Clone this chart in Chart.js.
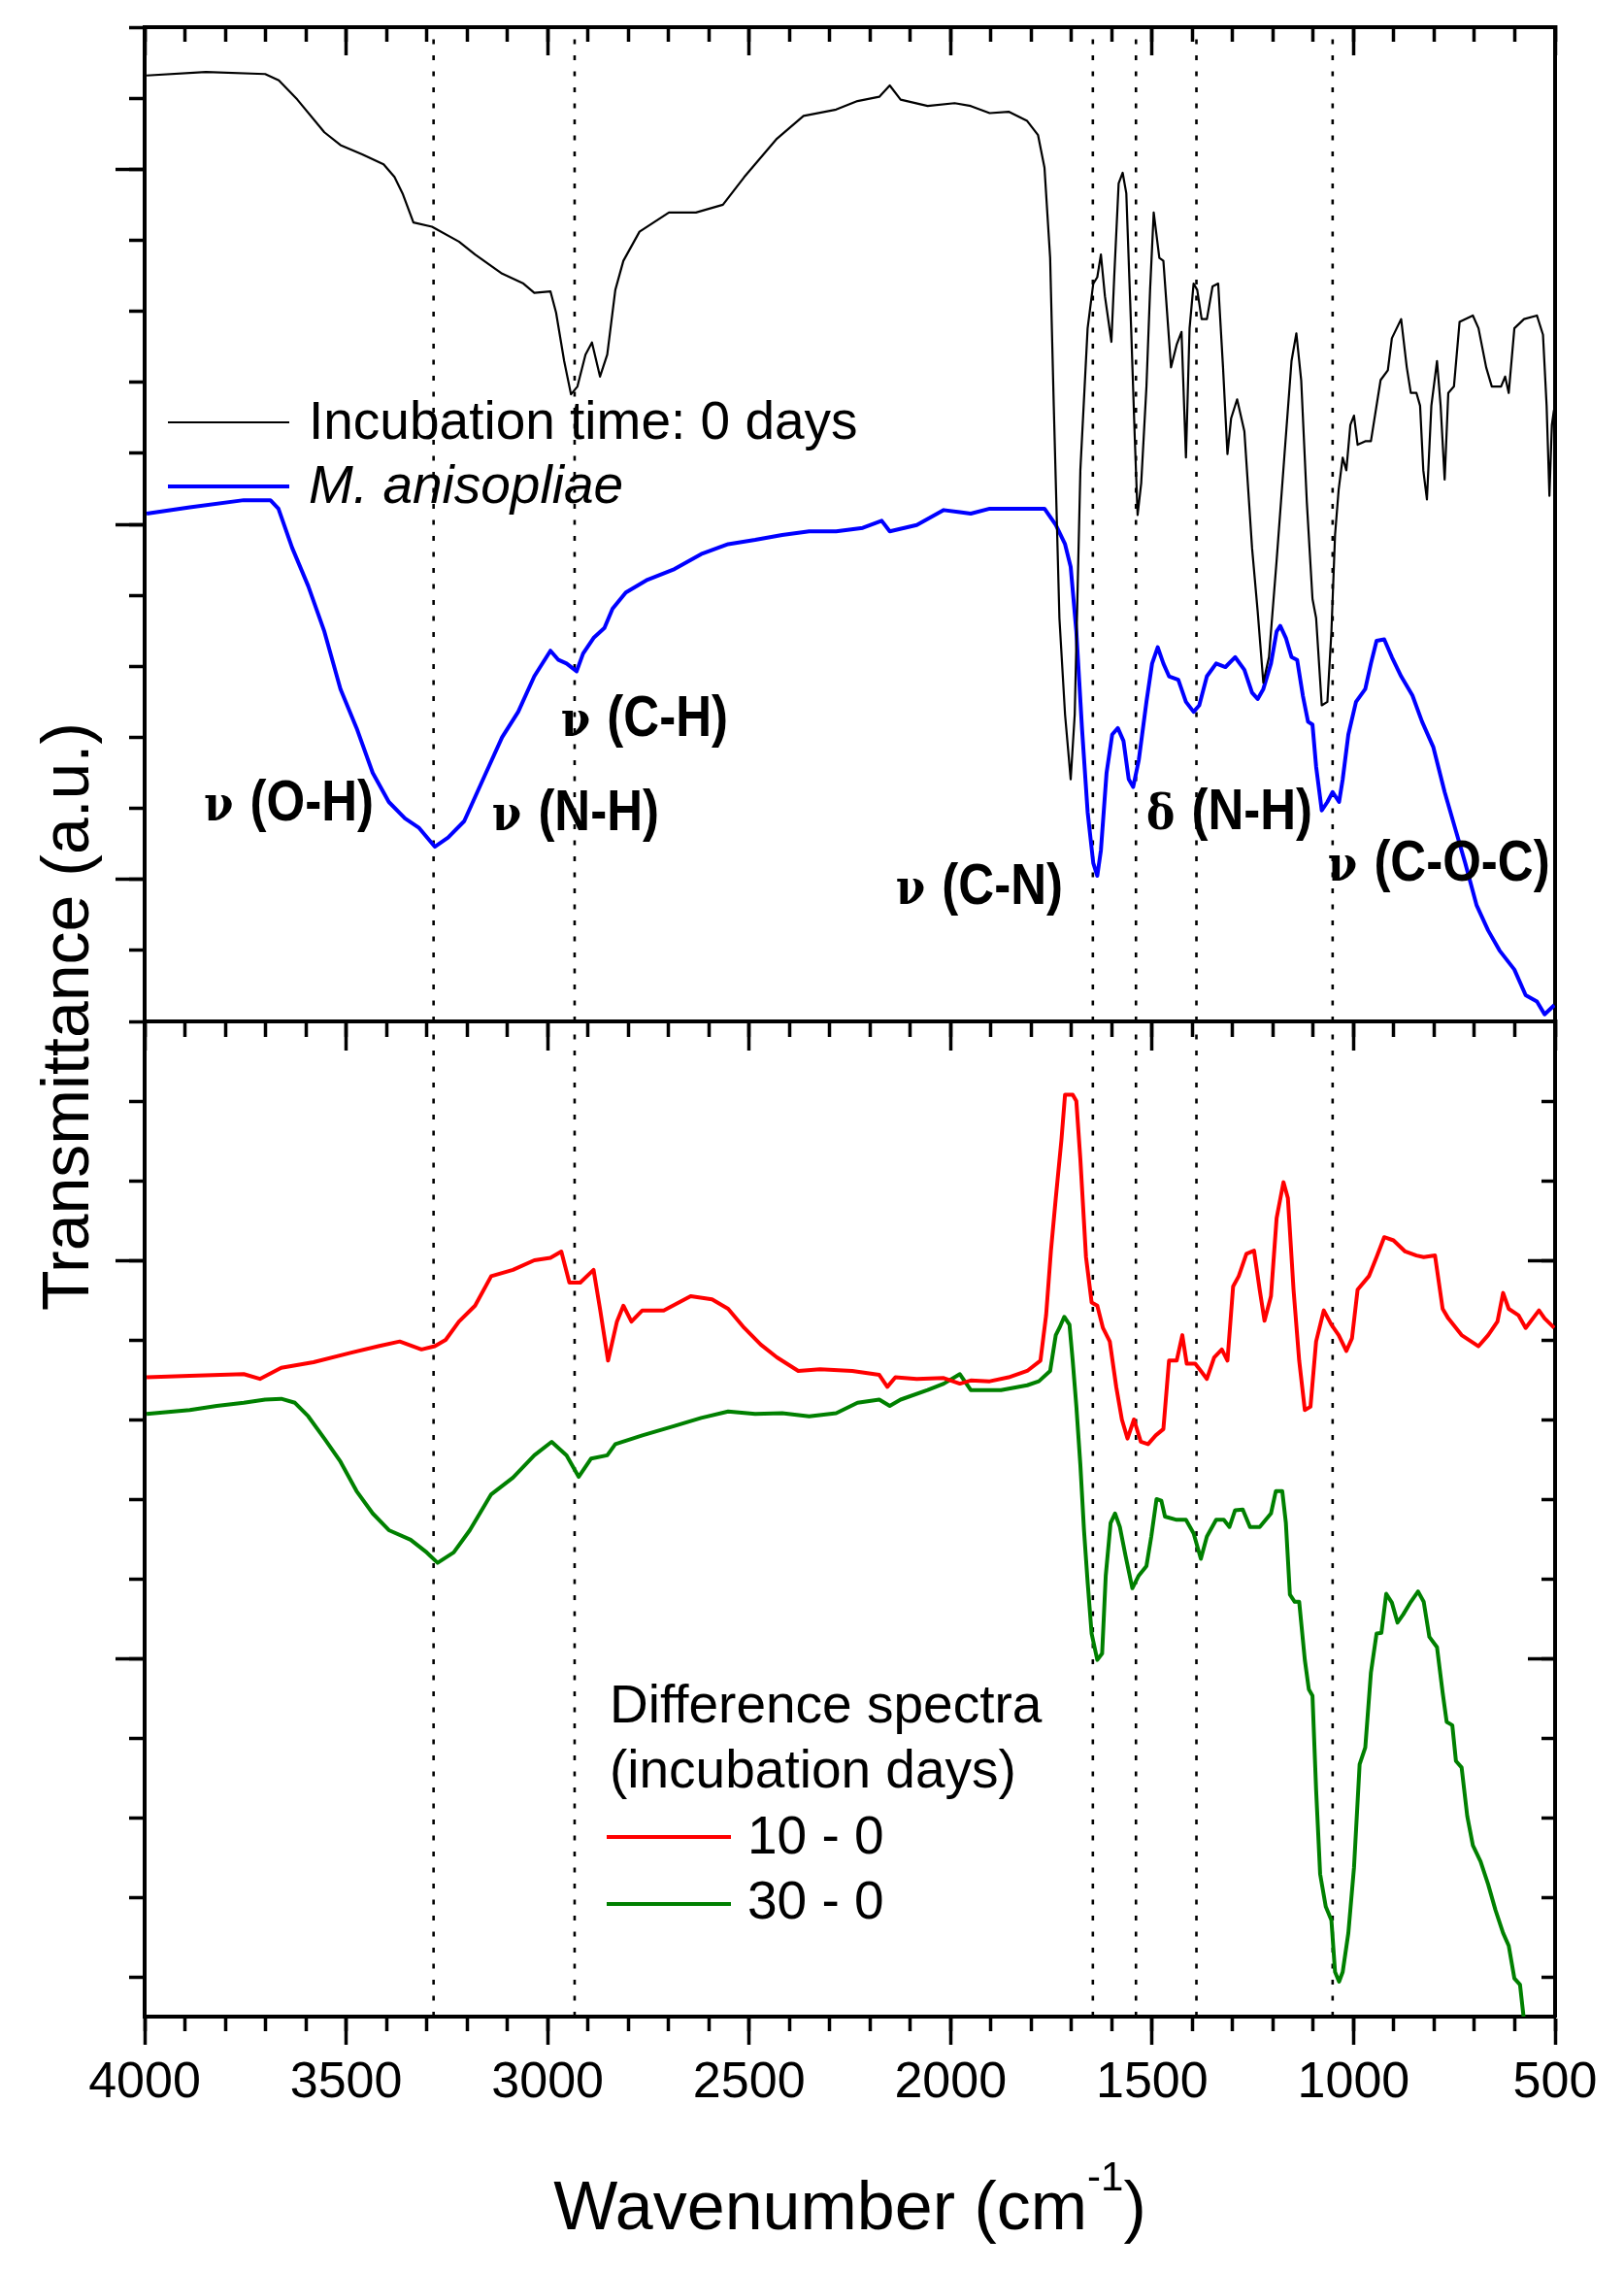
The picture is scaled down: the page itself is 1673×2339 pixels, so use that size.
<!DOCTYPE html>
<html>
<head>
<meta charset="utf-8">
<title>FTIR spectra</title>
<script src="https://cdn.jsdelivr.net/npm/chart.js@4.4.1/dist/chart.umd.min.js"></script>
<style>
  html, body { margin: 0; padding: 0; background: #fff; }
  #wrap { position: relative; width: 1673px; height: 2339px; }
  canvas { position: absolute; left: 0; top: 0; }
</style>
</head>
<body>
<div id="wrap">
  <canvas id="topChart" width="1673" height="2339"></canvas>
  <canvas id="bottomChart" width="1673" height="2339"></canvas>
</div>
<script>
// ===== Data =====
// Incubation time 0 days (black)
const wn0 = [3995, 3848, 3701, 3667, 3621, 3554, 3514, 3460, 3407, 3380, 3360, 3333, 3287, 3220, 3180, 3113,
  3060, 3033, 2993, 2979, 2959, 2942, 2926, 2906, 2890, 2870, 2852, 2832, 2812, 2772, 2699, 2632, 2565, 2512,
  2431, 2365, 2284, 2231, 2177, 2151, 2124, 2057, 1990, 1950, 1903, 1856, 1810, 1783, 1767, 1753, 1744, 1730,
  1716, 1702, 1692, 1678, 1660, 1646, 1636, 1627, 1617, 1601, 1594, 1583, 1573, 1564, 1552, 1543, 1536, 1527,
  1514, 1505, 1496, 1482, 1472, 1453, 1439, 1427, 1416, 1407, 1397, 1388, 1377, 1364, 1350, 1336, 1324, 1313,
  1304, 1289, 1271, 1252, 1238, 1224, 1210, 1191, 1172, 1154, 1142, 1130, 1116, 1102, 1093, 1079, 1065, 1055,
  1046, 1037, 1027, 1018, 1008, 999, 990, 971, 957, 933, 915, 905, 882, 868, 858, 844, 835, 827, 818, 807,
  793, 784, 774, 765, 751, 737, 704, 690, 671, 657, 634, 624, 615, 601, 577, 545, 530, 521, 514, 508, 503, 500];
const t0 = [13.32, 13.37, 13.34, 13.25, 12.98, 12.52, 12.34, 12.21, 12.07, 11.89, 11.66, 11.25, 11.19, 10.98, 10.80, 10.53,
  10.39, 10.26, 10.28, 9.98, 9.30, 8.83, 8.94, 9.39, 9.56, 9.08, 9.39, 10.30, 10.71, 11.12, 11.39, 11.39, 11.50, 11.89,
  12.43, 12.75, 12.84, 12.96, 13.02, 13.18, 12.98, 12.89, 12.93, 12.89, 12.79, 12.81, 12.68, 12.48, 12.02, 10.75, 8.67, 5.68,
  4.32, 3.41, 4.32, 7.76, 9.76, 10.39, 10.48, 10.80, 10.21, 9.57, 10.48, 11.80, 11.95, 11.66, 9.76, 8.22, 7.13, 7.58,
  8.94, 10.30, 11.39, 10.75, 10.71, 9.21, 9.53, 9.71, 7.94, 9.76, 10.39, 10.30, 9.89, 9.89, 10.35, 10.39, 9.21, 7.99,
  8.49, 8.76, 8.31, 6.67, 5.77, 4.77, 5.13, 6.49, 7.94, 9.30, 9.69, 9.03, 7.31, 5.95, 5.68, 4.45, 4.50, 5.49,
  6.85, 7.49, 7.94, 7.76, 8.40, 8.53, 8.12, 8.17, 8.17, 9.03, 9.17, 9.62, 9.89, 9.21, 8.85, 8.85, 8.67, 7.76, 7.35, 8.67,
  9.30, 8.67, 7.63, 8.85, 8.94, 9.85, 9.94, 9.76, 9.21, 8.94, 8.94, 9.08, 8.85, 9.76, 9.89, 9.94, 9.67, 8.67, 7.40, 8.40, 8.60, 7.40];

// M. anisopliae (blue)
const wnM = [3995, 3888, 3754, 3688, 3668, 3634, 3594, 3554, 3514, 3474, 3434, 3394, 3354, 3320, 3280, 3247, 3207,
  3153, 3113, 3073, 3033, 2993, 2973, 2953, 2928, 2912, 2886, 2859, 2839, 2806, 2752, 2685, 2619, 2552, 2485, 2418,
  2351, 2284, 2218, 2171, 2151, 2084, 2017, 1977, 1950, 1903, 1856, 1810, 1767, 1739, 1716, 1702, 1688, 1674, 1660,
  1646, 1636, 1627, 1613, 1599, 1585, 1571, 1558, 1547, 1533, 1514, 1500, 1486, 1472, 1458, 1435, 1416, 1397, 1383,
  1364, 1341, 1318, 1294, 1271, 1252, 1238, 1224, 1205, 1191, 1182, 1168, 1154, 1140, 1126, 1113, 1102, 1093, 1079,
  1065, 1052, 1036, 1027, 1013, 994, 971, 957, 943, 924, 905, 882, 854, 830, 802, 774, 746, 723, 695, 666, 638, 601,
  573, 545, 526, 502];
const tM = [7.15, 7.24, 7.34, 7.34, 7.22, 6.67, 6.13, 5.49, 4.68, 4.13, 3.50, 3.09, 2.86, 2.73, 2.46, 2.59, 2.82,
  3.50, 4.00, 4.36, 4.86, 5.22, 5.09, 5.04, 4.93, 5.18, 5.40, 5.54, 5.81, 6.04, 6.22, 6.37, 6.58, 6.72, 6.78, 6.85,
  6.90, 6.90, 6.95, 7.05, 6.90, 6.99, 7.20, 7.17, 7.15, 7.22, 7.22, 7.22, 7.22, 6.99, 6.72, 6.40, 5.49, 4.13, 2.95,
  2.23, 2.05, 2.41, 3.50, 4.04, 4.13, 3.95, 3.41, 3.30, 3.68, 4.50, 5.04, 5.27, 5.04, 4.86, 4.81, 4.50, 4.36, 4.45,
  4.86, 5.04, 4.99, 5.13, 4.95, 4.63, 4.54, 4.68, 5.04, 5.49, 5.57, 5.40, 5.13, 5.09, 4.59, 4.22, 4.18, 3.59, 2.97,
  3.09, 3.23, 3.09, 3.41, 4.04, 4.50, 4.68, 5.04, 5.36, 5.38, 5.13, 4.86, 4.59, 4.22, 3.86, 3.23, 2.68, 2.23, 1.64, 1.28, 1.00, 0.73,
  0.37, 0.28, 0.10, 0.23];

// Difference spectrum 10 - 0 days (red)
const wn10 = [3995, 3888, 3754, 3714, 3661, 3581, 3487, 3420, 3367, 3313, 3280, 3253, 3220, 3180, 3140, 3086, 3033,
  2993, 2966, 2946, 2919, 2886, 2870, 2850, 2828, 2812, 2792, 2765, 2712, 2645, 2592, 2552, 2512, 2471, 2431, 2378,
  2324, 2244, 2177, 2157, 2137, 2084, 2017, 1977, 1950, 1903, 1856, 1810, 1777, 1763, 1751, 1739, 1725, 1716, 1697,
  1688, 1678, 1664, 1650, 1636, 1622, 1605, 1589, 1575, 1561, 1545, 1528, 1510, 1491, 1472, 1458, 1439, 1425, 1414,
  1393, 1379, 1364, 1346, 1327, 1313, 1299, 1285, 1266, 1247, 1233, 1221, 1205, 1191, 1174, 1163, 1149, 1135, 1121,
  1107, 1093, 1074, 1055, 1037, 1018, 1004, 990, 962, 943, 924, 901, 872, 844, 826, 798, 779, 765, 732, 690, 666,
  643, 629, 615, 591, 573, 540, 526, 502];
const d10 = [7.53, 7.55, 7.57, 7.51, 7.65, 7.72, 7.84, 7.92, 7.98, 7.88, 7.92, 8.00, 8.23, 8.43, 8.80, 8.88, 9.00,
  9.03, 9.11, 8.72, 8.72, 8.88, 8.39, 7.74, 8.23, 8.43, 8.23, 8.37, 8.37, 8.55, 8.51, 8.39, 8.15, 7.94, 7.78, 7.61,
  7.63, 7.61, 7.56, 7.41, 7.53, 7.51, 7.52, 7.45, 7.49, 7.48, 7.53, 7.61, 7.74, 8.31, 9.12, 9.78, 10.51, 11.08, 11.08,
  11.00, 10.27, 9.04, 8.47, 8.43, 8.15, 7.98, 7.41, 7.00, 6.76, 7.00, 6.72, 6.69, 6.80, 6.88, 7.74, 7.74, 8.06, 7.70,
  7.70, 7.61, 7.51, 7.78, 7.88, 7.74, 8.67, 8.80, 9.08, 9.12, 8.63, 8.24, 8.55, 9.53, 9.98, 9.78, 8.63, 7.74, 7.12,
  7.16, 7.98, 8.37, 8.19, 8.06, 7.86, 8.02, 8.63, 8.80, 9.04, 9.29, 9.25, 9.11, 9.06, 9.04, 9.06, 8.39, 8.27, 8.06, 7.92, 8.06,
  8.23, 8.59, 8.39, 8.31, 8.15, 8.37, 8.27, 8.15];

// Difference spectrum 30 - 0 days (green)
const wn30 = [3995, 3888, 3821, 3754, 3701, 3661, 3627, 3594, 3554, 3514, 3474, 3434, 3394, 3340, 3300, 3273, 3233,
  3193, 3140, 3086, 3033, 2990, 2953, 2923, 2892, 2852, 2832, 2765, 2685, 2619, 2552, 2485, 2418, 2351, 2284, 2231,
  2177, 2151, 2124, 2057, 2017, 1977, 1950, 1875, 1810, 1781, 1753, 1739, 1730, 1718, 1705, 1697, 1688, 1678, 1669,
  1660, 1650, 1636, 1624, 1615, 1603, 1592, 1580, 1566, 1549, 1533, 1514, 1502, 1489, 1477, 1468, 1439, 1416, 1397,
  1379, 1364, 1341, 1322, 1308, 1294, 1275, 1257, 1233, 1205, 1193, 1177, 1168, 1158, 1146, 1135, 1121, 1111, 1102,
  1093, 1083, 1069, 1055, 1046, 1036, 1027, 1013, 999, 985, 971, 957, 943, 931, 919, 905, 891, 877, 858, 840, 826,
  812, 793, 779, 769, 755, 746, 732, 718, 704, 685, 666, 648, 629, 615, 601, 587, 578, 572];
const d30 = [7.07, 7.12, 7.17, 7.21, 7.25, 7.26, 7.21, 7.04, 6.76, 6.47, 6.10, 5.82, 5.61, 5.49, 5.33, 5.20, 5.33,
  5.61, 6.06, 6.27, 6.55, 6.72, 6.55, 6.28, 6.51, 6.55, 6.69, 6.80, 6.92, 7.02, 7.10, 7.07, 7.08, 7.04, 7.08, 7.21,
  7.25, 7.17, 7.25, 7.37, 7.45, 7.57, 7.37, 7.37, 7.43, 7.48, 7.61, 8.06, 8.15, 8.29, 8.19, 7.74, 7.17, 6.43, 5.61,
  4.96, 4.31, 3.98, 4.06, 5.04, 5.70, 5.82, 5.65, 5.29, 4.88, 5.04, 5.16, 5.53, 6.00, 5.98, 5.78, 5.74, 5.74, 5.57,
  5.25, 5.53, 5.74, 5.74, 5.65, 5.86, 5.87, 5.65, 5.65, 5.82, 6.10, 6.10, 5.70, 4.80, 4.71, 4.71, 3.98, 3.61, 3.53,
  2.35, 1.29, 0.88, 0.71, 0.06, -0.06, 0.06, 0.55, 1.37, 2.67, 2.88, 3.82, 4.31, 4.32, 4.81, 4.70, 4.45, 4.55, 4.71, 4.84, 4.71,
  4.27, 4.14, 3.57, 3.20, 3.16, 2.71, 2.63, 2.02, 1.65, 1.45, 1.16, 0.84, 0.55, 0.39, -0.02, -0.10, -0.51, -0.9];

// Band assignments (dotted verticals), cm-1
const bandPositions = [3283, 2933, 1647, 1540, 1390, 1052];

// Tick values
const xMajorTicks = [4000, 3500, 3000, 2500, 2000, 1500, 1000, 500];
const xMinorTicks = [4000, 3900, 3800, 3700, 3600, 3500, 3400, 3300, 3200, 3100, 3000, 2900, 2800, 2700, 2600,
  2500, 2400, 2300, 2200, 2100, 2000, 1900, 1800, 1700, 1600, 1500, 1400, 1300, 1200, 1100, 1000, 900, 800,
  700, 600, 500];
const topMinorTicks = [0, 1, 2, 3, 4, 5, 6, 7, 8, 9, 10, 11, 12, 13, 14];
const topMajorTicks = [2, 7, 12];
const lowMinorTicks = [0, 1, 2, 3, 4, 5, 6, 7, 8, 9, 10, 11];
const lowMajorTicks = [4, 9];

// ===== Layout =====
const PAGE_W = 1673, PAGE_H = 2339;
const LEFT = 149, RIGHT = 1602, TOP = 28, MID = 1052, BOTTOM = 2077;
const INK = '#000';
const SANS = '"Liberation Sans", Arial, sans-serif';
const GREEK = '"DejaVu Serif", "Liberation Serif", serif';

const toPoints = (xs, ys) => xs.map((x, i) => ({ x, y: ys[i] }));

// one axis = one set of tick marks; majors and minors are two axes on the same edge
function axis({ position, min, max, ticks, len, weight, size, labels = false, reverse = false, drawTicks = true }) {
  return {
    type: 'linear', position, min, max, weight, reverse,
    afterBuildTicks: s => { s.ticks = ticks.map(v => ({ value: v })); },
    afterFit: s => { if (s.isHorizontal()) s.height = size; else s.width = size; },
    grid: { drawOnChartArea: false, drawTicks, tickLength: len, tickWidth: 3.5, tickColor: INK },
    border: { display: true, color: INK, width: 4 },
    ticks: labels
      ? { display: true, autoSkip: false, maxRotation: 0, minRotation: 0, padding: 8, color: INK,
          font: { family: SANS, size: 52 }, callback: v => String(v) }
      : { display: false }
  };
}

function bandLines(ymin, ymax) {
  return bandPositions.map(w => ({
    data: [{ x: w, y: ymin }, { x: w, y: ymax }],
    borderColor: INK, borderWidth: 2.6, borderDash: [5, 11.5], borderCapStyle: 'butt'
  }));
}

// bold labels in the reference are slightly narrow/tall, so stretch them a little vertically
function bandLabel(ctx, x, y, greek, rest) {
  ctx.save();
  ctx.translate(x, y);
  ctx.scale(1, 1.15);
  ctx.font = `bold 44px ${GREEK}`;
  ctx.fillText(greek, 0, 0);
  const w = ctx.measureText(greek).width;
  ctx.font = `bold 51px ${SANS}`;
  ctx.fillText(rest, w + 17, 0);
  ctx.restore();
}

// band annotations: anchor = left end of text baseline, in (wavenumber, a.u.)
const bandNotes = [
  { g: '\u03bd', t: '(O-H)', wn: 3853, v: 2.83 },
  { g: '\u03bd', t: '(N-H)', wn: 3138, v: 2.70 },
  { g: '\u03bd', t: '(C-H)', wn: 2967, v: 4.02 },
  { g: '\u03bd', t: '(C-N)', wn: 2136, v: 1.65 },
  { g: '\u03b4', t: '(N-H)', wn: 1514, v: 2.71 },
  { g: '\u03bd', t: '(C-O-C)', wn: 1064, v: 1.98 }
];

const commonOptions = {
  responsive: false,
  animation: false,
  events: [],
  plugins: { legend: { display: false }, tooltip: { enabled: false } },
  elements: {
    point: { radius: 0 },
    line: { tension: 0, borderJoinStyle: 'round', fill: false }
  }
};

// ===== Upper panel =====
const topText = {
  id: 'topText',
  afterDatasetsDraw(chart) {
    const { ctx } = chart;
    const xs = chart.scales.x, ys = chart.scales.y;
    ctx.save();
    ctx.fillStyle = INK;
    ctx.textBaseline = 'alphabetic';
    ctx.textAlign = 'left';
    // legend
    ctx.strokeStyle = INK; ctx.lineWidth = 2.2;
    ctx.beginPath(); ctx.moveTo(173, 435); ctx.lineTo(298, 435); ctx.stroke();
    ctx.strokeStyle = '#0000ff'; ctx.lineWidth = 4;
    ctx.beginPath(); ctx.moveTo(173, 501); ctx.lineTo(298, 501); ctx.stroke();
    ctx.font = `55px ${SANS}`;
    ctx.fillText('Incubation time: 0 days', 318, 452);
    ctx.font = `italic 55px ${SANS}`;
    ctx.fillText('M. anisopliae', 318, 518);
    // band labels
    bandNotes.forEach(n => {
      bandLabel(ctx, xs.getPixelForValue(n.wn), ys.getPixelForValue(n.v), n.g, n.t);
    });
    ctx.restore();
  }
};

new Chart(document.getElementById('topChart'), {
  type: 'line',
  data: {
    datasets: [
      { label: 'Incubation time: 0 days', data: toPoints(wn0, t0), borderColor: INK, borderWidth: 2.2 },
      { label: 'M. anisopliae', data: toPoints(wnM, tM), borderColor: '#0000ff', borderWidth: 4 },
      ...bandLines(0, 14)
    ]
  },
  options: {
    ...commonOptions,
    layout: { padding: { left: 0, right: 0, top: 0, bottom: PAGE_H - MID } },
    scales: {
      x: axis({ position: 'top', min: 500, max: 4000, reverse: true, ticks: xMinorTicks, len: -15, weight: 0, size: 0 }),
      xMaj: axis({ position: 'top', min: 500, max: 4000, reverse: true, ticks: xMajorTicks, len: -29, weight: 1, size: TOP }),
      y: axis({ position: 'left', min: 0, max: 14, ticks: topMinorTicks, len: 16, weight: 0, size: 0 }),
      yMaj: axis({ position: 'left', min: 0, max: 14, ticks: topMajorTicks, len: 30, weight: 1, size: LEFT }),
      yR: axis({ position: 'right', min: 0, max: 14, ticks: topMajorTicks, len: 0, weight: 0, size: PAGE_W - RIGHT, drawTicks: false })
    }
  },
  plugins: [topText]
});

// ===== Lower panel =====
const bottomText = {
  id: 'bottomText',
  afterDatasetsDraw(chart) {
    const { ctx } = chart;
    ctx.save();
    ctx.fillStyle = INK;
    ctx.textBaseline = 'alphabetic';
    ctx.textAlign = 'left';
    // legend
    ctx.font = `55px ${SANS}`;
    ctx.fillText('Difference spectra', 628, 1774);
    ctx.fillText('(incubation days)', 628, 1841);
    ctx.fillText('10 - 0', 770, 1909);
    ctx.fillText('30 - 0', 770, 1976);
    ctx.lineWidth = 4;
    ctx.strokeStyle = '#ff0000';
    ctx.beginPath(); ctx.moveTo(625, 1892); ctx.lineTo(753, 1892); ctx.stroke();
    ctx.strokeStyle = '#008000';
    ctx.beginPath(); ctx.moveTo(625, 1961); ctx.lineTo(753, 1961); ctx.stroke();

    // x axis title with superscript
    const main = 'Wavenumber (cm', sup = '-1', close = ')';
    ctx.font = `70px ${SANS}`;
    const wMain = ctx.measureText(main).width, wClose = ctx.measureText(close).width;
    ctx.font = `42px ${SANS}`;
    const wSup = ctx.measureText(sup).width;
    const cx = (LEFT + RIGHT) / 2;
    const x0 = cx - (wMain + wSup + wClose) / 2;
    ctx.font = `70px ${SANS}`;
    ctx.fillText(main, x0, 2296);
    ctx.font = `42px ${SANS}`;
    ctx.fillText(sup, x0 + wMain, 2256);
    ctx.font = `70px ${SANS}`;
    ctx.fillText(close, x0 + wMain + wSup, 2296);

    // y axis title, shared by both panels
    ctx.translate(91, 1047);
    ctx.rotate(-Math.PI / 2);
    ctx.textAlign = 'center';
    ctx.font = `68px ${SANS}`;
    ctx.fillText('Transmittance (a.u.)', 0, 0);
    ctx.restore();
  }
};

new Chart(document.getElementById('bottomChart'), {
  type: 'line',
  data: {
    datasets: [
      { label: '10 - 0', data: toPoints(wn10, d10), borderColor: '#ff0000', borderWidth: 4 },
      { label: '30 - 0', data: toPoints(wn30, d30), borderColor: '#008000', borderWidth: 4 },
      ...bandLines(-0.5, 12)
    ]
  },
  options: {
    ...commonOptions,
    layout: { padding: 0 },
    scales: {
      x: axis({ position: 'top', min: 500, max: 4000, reverse: true, ticks: xMinorTicks, len: -16, weight: 0, size: 0 }),
      xTopMaj: axis({ position: 'top', min: 500, max: 4000, reverse: true, ticks: xMajorTicks, len: -30, weight: 1, size: MID }),
      xBot: axis({ position: 'bottom', min: 500, max: 4000, reverse: true, ticks: xMinorTicks, len: 15, weight: 0, size: 0 }),
      xBotMaj: axis({ position: 'bottom', min: 500, max: 4000, reverse: true, ticks: xMajorTicks, len: 29, weight: 1, size: PAGE_H - BOTTOM, labels: true }),
      y: axis({ position: 'left', min: -0.5, max: 12, ticks: lowMinorTicks, len: 16, weight: 0, size: 0 }),
      yMaj: axis({ position: 'left', min: -0.5, max: 12, ticks: lowMajorTicks, len: 30, weight: 1, size: LEFT }),
      yR: axis({ position: 'right', min: -0.5, max: 12, ticks: lowMinorTicks, len: -14, weight: 0, size: 0 }),
      yRMaj: axis({ position: 'right', min: -0.5, max: 12, ticks: lowMajorTicks, len: -28, weight: 1, size: PAGE_W - RIGHT })
    }
  },
  plugins: [bottomText]
});
</script>
</body>
</html>
